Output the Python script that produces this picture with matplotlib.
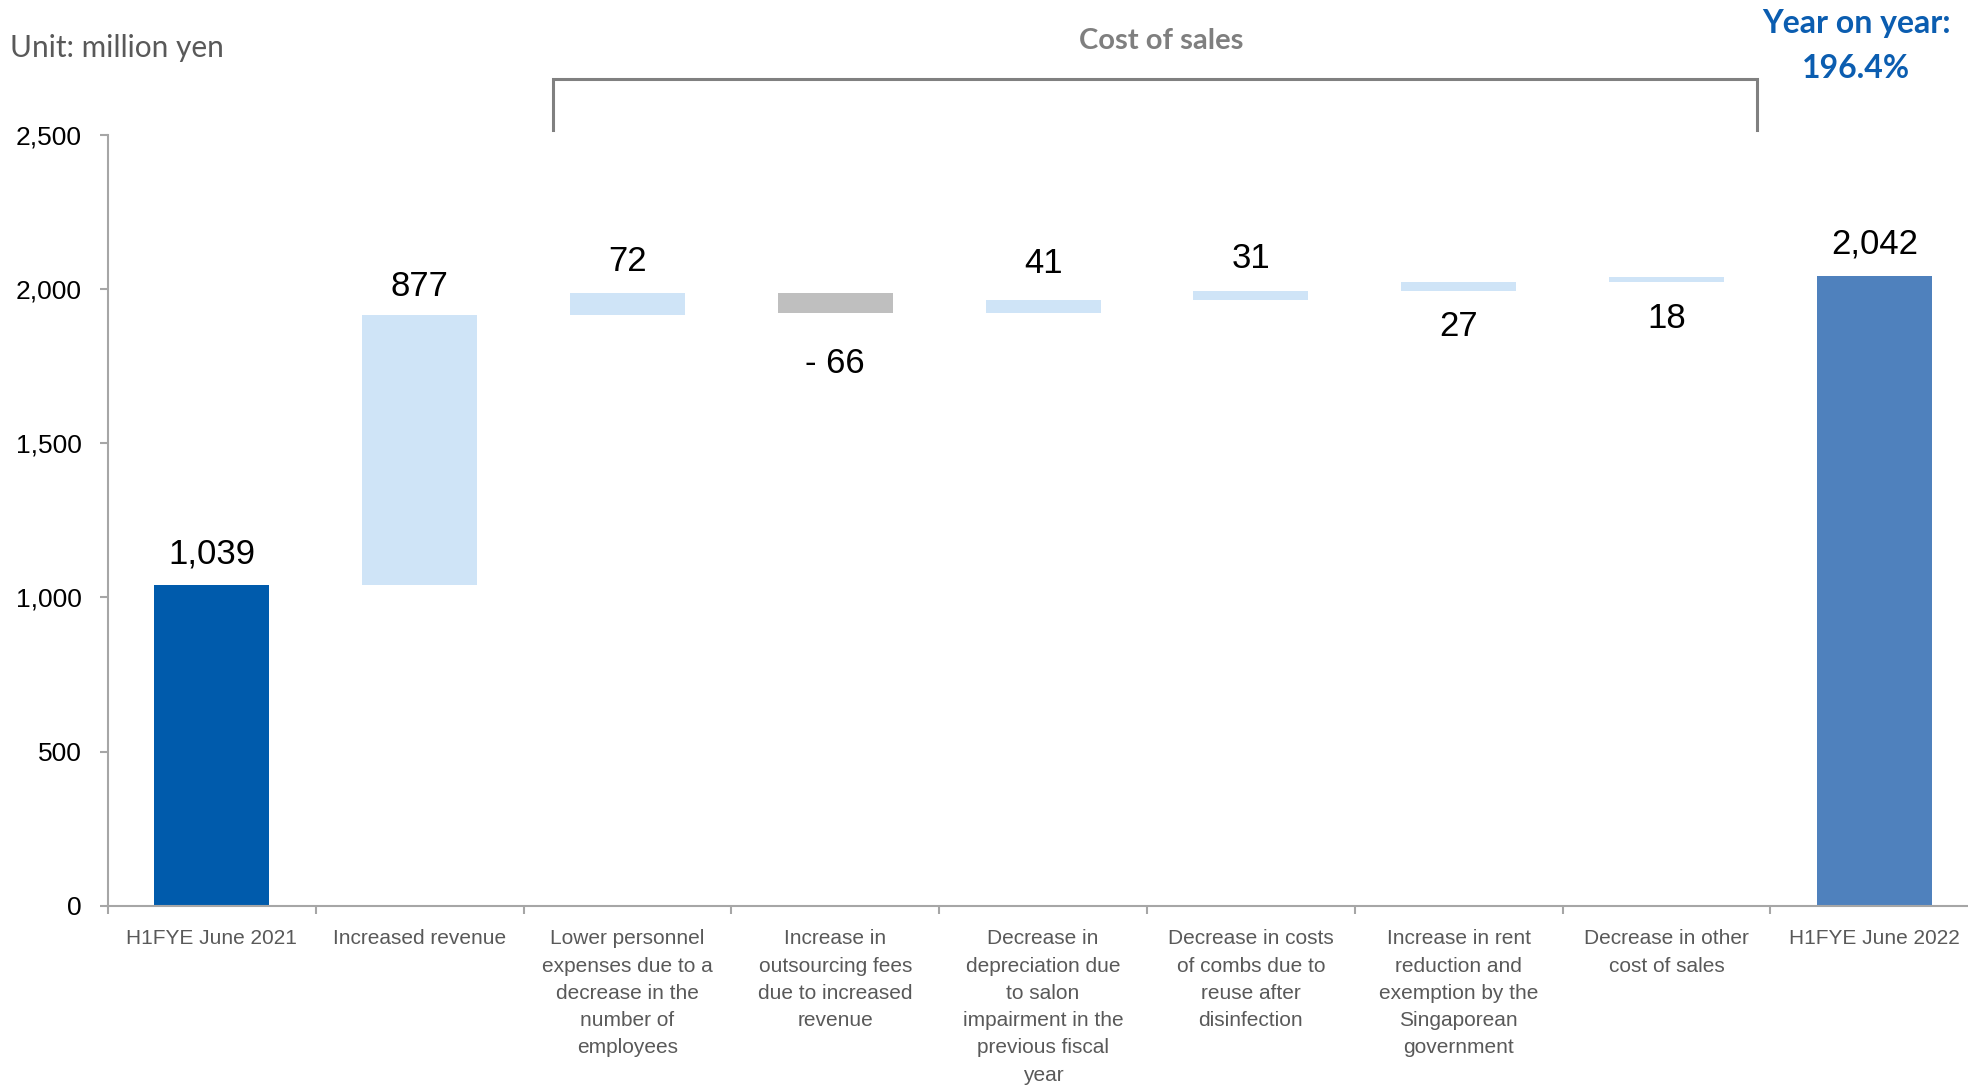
import matplotlib
matplotlib.use("Agg")
import matplotlib.pyplot as plt
from matplotlib.lines import Line2D
import numpy as np

# --- data ---
categories = [
    "H1FYE June 2021",
    "Increased revenue",
    "Lower personnel\nexpenses due to a\ndecrease in the\nnumber of\nemployees",
    "Increase in\noutsourcing fees\ndue to increased\nrevenue",
    "Decrease in\ndepreciation due\nto salon\nimpairment in the\nprevious fiscal\nyear",
    "Decrease in costs\nof combs due to\nreuse after\ndisinfection",
    "Increase in rent\nreduction and\nexemption by the\nSingaporean\ngovernment",
    "Decrease in other\ncost of sales",
    "H1FYE June 2022",
]
start_value = 1039
deltas = [877, 72, -66, 41, 31, 27, 18]
end_value = 2042
value_labels = ["1,039", "877", "72", "- 66", "41", "31", "27", "18", "2,042"]
yticks = [0, 500, 1000, 1500, 2000, 2500]
ytick_labels = ["0", "500", "1,000", "1,500", "2,000", "2,500"]

# --- colours / style ---
C_START = "#005BAC"
C_END = "#4F81BD"
C_UP = "#CFE4F7"
C_DOWN = "#BFBFBF"
AXIS_GRAY = "#A6A6A6"

W, H = 1968, 1088
fig = plt.figure(figsize=(W / 100, H / 100), dpi=100)
plt.rcParams['font.family'] = ['Liberation Sans', 'DejaVu Sans']

# axes placed in pixels: left spine x=108, zero line y=906, 2500 at y=135
ax_left, ax_bottom_px, ax_top_px = 108, 905.7, 134.7
cat_w = 207.8
ax = fig.add_axes([ax_left / W, (H - ax_bottom_px) / H,
                   9 * cat_w / W, (ax_bottom_px - ax_top_px) / H])

# waterfall geometry
cum = start_value + np.concatenate([[0], np.cumsum(deltas)])
bottoms = [0]
heights = [start_value]
colors = [C_START]
for i, d in enumerate(deltas):
    lo = min(cum[i], cum[i + 1])
    bottoms.append(lo)
    heights.append(abs(d))
    colors.append(C_UP if d >= 0 else C_DOWN)
bottoms.append(0)
heights.append(end_value)
colors.append(C_END)

x = np.arange(len(categories))
bw = 0.553
ax.bar(x, heights, bottom=bottoms, width=bw, color=colors, zorder=2)

# value labels (pixel offsets from bar top / bottom, as in the source layout)
offsets_px = [31, 28, 31, -51, 37, 32, -36, -36, 32]
for i, lab in enumerate(value_labels):
    off = offsets_px[i]
    yref = bottoms[i] + heights[i] if off > 0 else bottoms[i]
    ax.annotate(lab, (x[i], yref), xytext=(0, off * 0.72),
                textcoords="offset points", ha="center", va="center",
                fontsize=25, color="black", annotation_clip=False)

ax.set_xlim(-0.5, len(categories) - 0.5)
ax.set_ylim(0, 2500)

for s in ["top", "right"]:
    ax.spines[s].set_visible(False)
for s in ["left", "bottom"]:
    ax.spines[s].set_color(AXIS_GRAY)
    ax.spines[s].set_linewidth(1.5)

ax.set_yticks(yticks)
ax.set_yticklabels(ytick_labels)
ax.tick_params(axis="y", direction="out", length=6, width=1.5,
               color=AXIS_GRAY, labelsize=19, labelcolor="black", pad=13)

ax.set_xticks(x)
ax.set_xticklabels(categories, fontsize=15, color="#595959", linespacing=1.55,
                   va="top", ha="center")
ax.tick_params(axis="x", which="major", length=0, pad=17)
ax.set_xticks(np.arange(-0.5, len(categories)), minor=True)
ax.tick_params(axis="x", which="minor", direction="out", length=6,
               width=1.5, color=AXIS_GRAY)

# header texts
fig.text(10 / W, 1 - 48 / H, "Unit: million yen", fontsize=21.5,
         family=["Lato", "DejaVu Sans"], color="#595959",
         ha="left", va="center")
fig.text(1161 / W, 1 - 41 / H, "Cost of sales", fontsize=21,
         family=["Lato", "DejaVu Sans"], weight="bold", color="#7F7F7F",
         ha="center", va="center")
fig.text(1856 / W, 1 - 24 / H, "Year on year:", fontsize=23,
         family=["Lato", "DejaVu Sans"], weight="bold", color="#0B5DB0",
         ha="center", va="center")
fig.text(1856 / W, 1 - 69 / H, "196.4%", fontsize=23,
         family=["Lato", "DejaVu Sans"], weight="bold", color="#0B5DB0",
         ha="center", va="center")

# bracket over the cost of sales items
bx = np.array([553, 553, 1757, 1757]) / W
by = 1 - np.array([130, 79, 79, 130]) / H
fig.add_artist(Line2D(bx, by, color="#808080", linewidth=2.2,
                      solid_joinstyle="miter", transform=fig.transFigure))

fig.savefig("out.png", dpi=100)
